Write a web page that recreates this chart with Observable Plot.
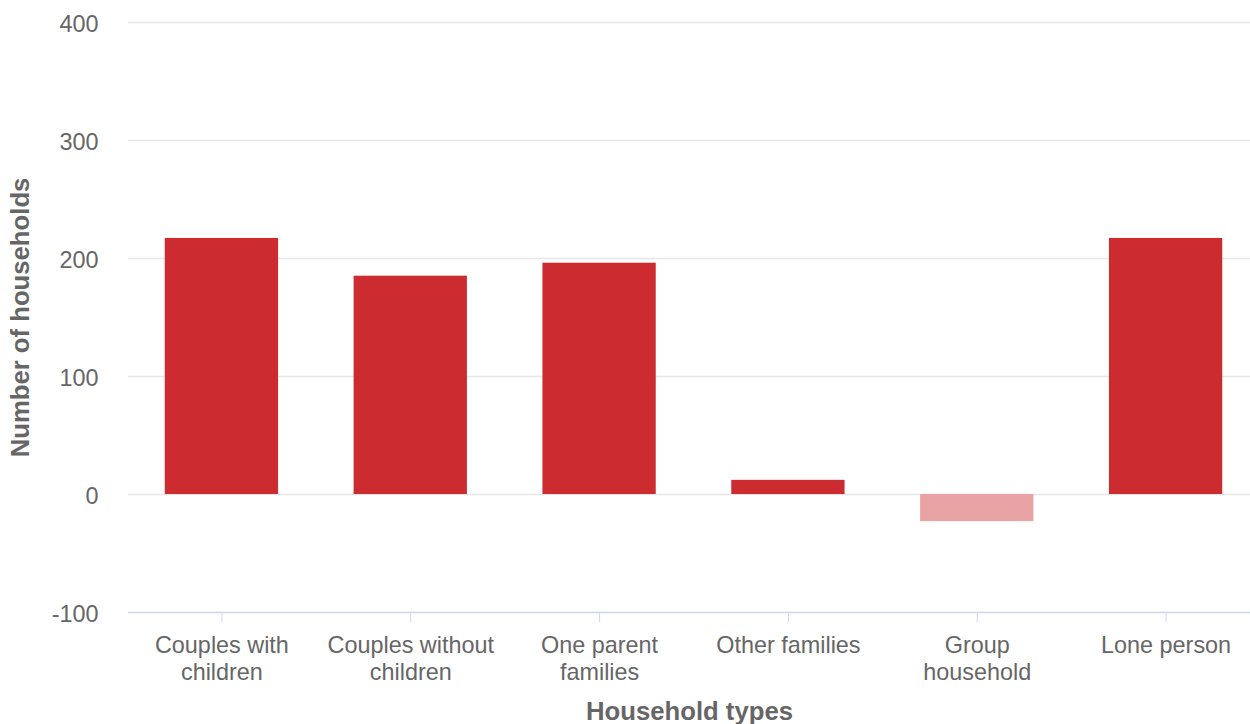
<!DOCTYPE html>
<html>
<head>
<meta charset="utf-8">
<script src="https://cdn.jsdelivr.net/npm/d3@7"></script>
<script src="https://cdn.jsdelivr.net/npm/@observablehq/plot@0.6"></script>
<style>
  html, body { margin: 0; padding: 0; background: #ffffff; }
  #chart svg { display: block; }
</style>
</head>
<body>
<div id="chart"></div>
<script>
const categories = ["Couples with children", "Couples without children", "One parent families", "Other families", "Group household", "Lone person"];
const values = [217, 185, 196, 12, -23, 217];
const tickLabels = ["Couples with\nchildren", "Couples without\nchildren", "One parent\nfamilies", "Other families", "Group\nhousehold", "Lone person"];
const yTicks = [-100, 0, 100, 200, 300, 400];

const data = categories.map((c, i) => ({category: c, value: values[i], label: tickLabels[i]}));
const labelOf = new Map(data.map(d => [d.category, d.label]));

const font = "'Liberation Sans', Arial, sans-serif";

const chart = Plot.plot({
  width: 1250,
  height: 724,
  marginLeft: 128,
  marginRight: 0,
  marginTop: 22,
  marginBottom: 112,
  style: {fontFamily: font, fontSize: "23.4px", color: "#666666", background: "#ffffff"},
  x: {domain: categories, paddingInner: 0.4, paddingOuter: 0.2, range: [127, 1260], round: false, label: null},
  y: {domain: [-100, 400], label: null},
  color: {type: "identity"},
  marks: [
    Plot.gridY(yTicks.filter(t => t > -100), {stroke: "#e6e6e6", strokeOpacity: 1, strokeWidth: 1.5}),
    Plot.barY(data, {x: "category", y: "value", fill: d => d.value < 0 ? "#eaa3a5" : "#cc2b30"}),
    Plot.ruleY([-100], {stroke: "#ccd6eb", strokeWidth: 1.5}),
    Plot.axisY({ticks: yTicks, tickSize: 0, tickPadding: 30, dy: 2, fill: "#666666", fontSize: 23.4, tickFormat: d => String(d), label: null}),
    Plot.axisX({tickSize: 10, stroke: "#ccd6eb", strokeOpacity: 1, tickPadding: 11, fill: "#666666", fontSize: 23.4, lineHeight: 1.16, tickFormat: d => labelOf.get(d), label: null}),
    Plot.text(["Household types"], {frameAnchor: "bottom", dy: 99, fontWeight: "bold", fontSize: 25.7, fill: "#666666", lineAnchor: "middle"}),
    Plot.text(["Number of households"], {frameAnchor: "left", textAnchor: "middle", dx: -108, rotate: -90, fontWeight: "bold", fontSize: 25.7, fill: "#666666"})
  ]
});
document.getElementById("chart").appendChild(chart);
</script>
</body>
</html>
